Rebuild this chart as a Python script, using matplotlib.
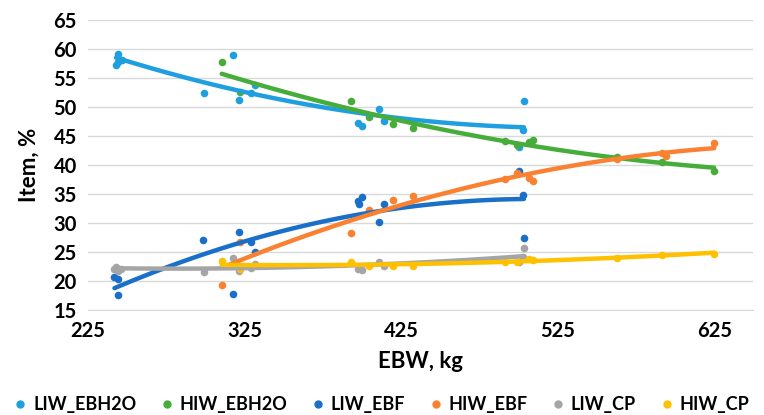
import numpy as np
import matplotlib
matplotlib.use("Agg")
import matplotlib.pyplot as plt
from matplotlib.lines import Line2D

# данные (EBW, кг / Item, %)
liw_ebh2o_x = [243, 244.5, 244, 246.5, 299, 318, 321.5, 329, 331.5, 397.5, 400, 411, 414, 503.5, 503, 500.5]
liw_ebh2o_y = [57.2, 59.2, 57.8, 58.1, 52.4, 58.9, 51.2, 52.4, 53.7, 47.3, 46.7, 49.7, 47.5, 51.1, 46.1, 43.1]

hiw_ebh2o_x = [310.5, 322, 393, 404.5, 420, 432.5, 491.5, 499, 507, 509.5, 563, 592, 625]
hiw_ebh2o_y = [57.8, 52.6, 51.1, 48.2, 47.0, 46.4, 44.1, 43.4, 44.0, 44.3, 41.3, 40.5, 39.0]

liw_ebf_x = [242, 244, 244, 298.5, 321.5, 318, 329, 331.5, 397.5, 398, 400, 411, 414, 503, 500.5, 503.5]
liw_ebf_y = [20.7, 20.4, 17.6, 27.1, 28.5, 17.7, 26.8, 25.0, 33.8, 33.2, 34.4, 30.1, 33.2, 34.8, 38.9, 27.4]

hiw_ebf_x = [310.5, 322, 393, 404.5, 420, 432.5, 491.5, 499, 507, 509.5, 563, 592, 594, 625]
hiw_ebf_y = [19.3, 26.8, 28.2, 32.3, 34.0, 34.6, 37.6, 38.6, 37.8, 37.3, 41.1, 42.0, 41.5, 43.8]

liw_cp_x = [242, 243, 244, 246, 299, 318, 321.5, 329, 331.5, 397.5, 400, 411, 414, 503.5, 503, 500.5]
liw_cp_y = [22.0, 22.4, 21.8, 22.1, 21.6, 24.0, 21.7, 22.3, 23.0, 22.1, 21.9, 23.2, 22.6, 25.7, 24.2, 23.2]

hiw_cp_x = [310.5, 322, 393, 404.5, 420, 432.5, 491.5, 499, 507, 509.5, 563, 592, 625]
hiw_cp_y = [23.5, 22.0, 23.3, 22.6, 22.6, 22.6, 23.3, 23.2, 23.8, 23.7, 24.0, 24.5, 24.7]

names = ["LIW_EBH2O", "HIW_EBH2O", "LIW_EBF", "HIW_EBF", "LIW_CP", "HIW_CP"]
colors = ["#1F9FE0", "#47AD3A", "#1A6FC9", "#F98131", "#A5A5A5", "#FFC000"]
series = [
    (liw_ebh2o_x, liw_ebh2o_y),
    (hiw_ebh2o_x, hiw_ebh2o_y),
    (liw_ebf_x, liw_ebf_y),
    (hiw_ebf_x, hiw_ebf_y),
    (liw_cp_x, liw_cp_y),
    (hiw_cp_x, hiw_cp_y),
]

plt.rcParams["font.family"] = ["Lato", "DejaVu Sans"]
plt.rcParams["font.weight"] = "bold"

fig = plt.figure(figsize=(7.64, 4.15), dpi=100)
ax = fig.add_axes([0.115, 0.253, 0.871, 0.699])

for (x, y), c in zip(series, colors):
    x = np.array(x)
    y = np.array(y)
    ax.scatter(x, y, s=30, color=c, zorder=3, linewidths=0)
    # полиномиальный тренд 2-й степени, как в Excel
    coef = np.polyfit(x, y, 2)
    xs = np.linspace(x.min(), x.max(), 100)
    ax.plot(xs, np.polyval(coef, xs), color=c, lw=3.2, zorder=4, solid_capstyle="round")

ax.set_xlim(225, 650)
ax.set_ylim(15, 65)
ax.set_xticks([225, 325, 425, 525, 625])
ax.set_yticks(range(15, 66, 5))
ax.tick_params(axis="both", length=0, labelsize=14.5, pad=8)
for lab in ax.get_xticklabels() + ax.get_yticklabels():
    lab.set_fontweight("bold")
ax.grid(axis="y", color="#D9D9D9", lw=1)
ax.set_axisbelow(True)
for s in ["top", "right", "left"]:
    ax.spines[s].set_visible(False)
ax.spines["bottom"].set_color("#D9D9D9")

ax.set_xlabel("EBW, kg", fontsize=16, fontweight="bold", labelpad=7)
ax.set_ylabel("Item, %", fontsize=16, fontweight="bold", labelpad=10)

handles = [Line2D([], [], marker="o", ls="none", color=c, markersize=5) for c in colors]
fig.legend(handles, names, loc="lower center", ncol=6, frameon=False,
           bbox_to_anchor=(0.5, -0.035), prop={"size": 13, "weight": "bold"},
           handlelength=0.6, handletextpad=0.4, columnspacing=1.4)

fig.savefig("out.png", dpi=100)
